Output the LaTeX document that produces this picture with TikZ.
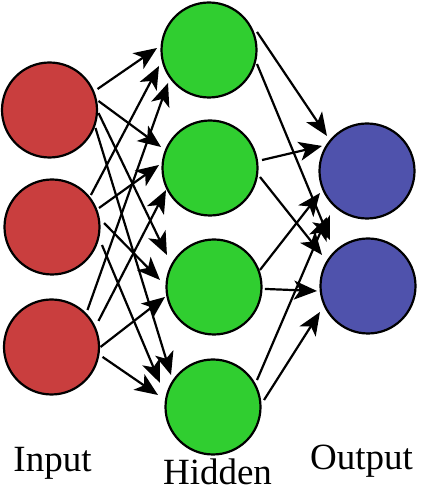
\documentclass[tikz,border=0pt]{standalone}
\usepackage{fontspec}
\setmainfont{Liberation Serif}
\usetikzlibrary{calc,arrows.meta}
\definecolor{nred}{RGB}{201,62,62}
\definecolor{ngreen}{RGB}{48,206,48}
\definecolor{nblue}{RGB}{79,82,172}
\tikzset{
  neuron/.style={circle,draw=black,line width=2.2pt,minimum size=95pt,inner sep=0pt},
  inp/.style={neuron,fill=nred},
  hid/.style={neuron,fill=ngreen},
  outp/.style={neuron,fill=nblue},
  arr/.style={line width=2.2pt,arrows={-Stealth[length=23pt 0 0,width=19pt 0 0,inset=6pt 0]}},
  lbl/.style={anchor=base,font=\fontsize{37}{40}\selectfont,inner sep=0pt}
}
\begin{document}
\begin{tikzpicture}[x=1pt,y=1pt]
\useasboundingbox (0,0) rectangle (440,502);
\node[inp] (i1) at (49.5,392) {};
\node[inp] (i2) at (52,275) {};
\node[inp] (i3) at (51.5,155) {};
\node[hid] (h1) at (209,452) {};
\node[hid] (h2) at (210,334) {};
\node[hid] (h3) at (214,215) {};
\node[hid] (h4) at (213,95) {};
\node[outp] (o1) at (367,331) {};
\node[outp] (o2) at (368,216) {};
% input -> hidden
\draw[arr] ($(i1.center)+(23.6:52.4)$) -- ($(h1.center)+(177.8:52)$);
\draw[arr] ($(i1.center)+(10.4:49.8)$) -- ($(h2.center)+(156.8:53.3)$);
\draw[arr] ($(i1.center)+(-3.5:49.1)$) -- ($(h3.center)+(145.8:56.9)$);
\draw[arr] ($(i1.center)+(-21.4:49.4)$) -- ($(h4.center)+(142.7:52.8)$);
\draw[arr] ($(i2.center)+(39.4:50.4)$) -- ($(h1.center)+(197.7:52.5)$);
\draw[arr] ($(i2.center)+(22:50.7)$) -- ($(h2.center)+(176.6:51.1)$);
\draw[arr] ($(i2.center)+(4.4:52.2)$) -- ($(h3.center)+(172.6:54.5)$);
\draw[arr] ($(i2.center)+(-19.8:53.1)$) -- ($(h4.center)+(155.6:58.2)$);
\draw[arr] ($(i3.center)+(45.8:51.6)$) -- ($(h1.center)+(218.8:52.6)$);
\draw[arr] ($(i3.center)+(29:53.7)$) -- ($(h2.center)+(206.6:49.2)$);
\draw[arr] ($(i3.center)+(0:49)$) -- ($(h3.center)+(191.5:50)$);
\draw[arr] ($(i3.center)+(-11:52)$) -- ($(h4.center)+(167.7:56.3)$);
% hidden -> output
\draw[arr] ($(h1.center)+(20.6:51.3)$) -- ($(o1.center)+(138.8:53.2)$);
\draw[arr] ($(h1.center)+(-16.3:50)$) -- ($(o2.center)+(129.6:59.7)$);
\draw[arr] ($(h2.center)+(8.7:52.6)$) -- ($(o1.center)+(150.9:51.5)$);
\draw[arr] ($(h2.center)+(-10.2:50.8)$) -- ($(o2.center)+(146:55.5)$);
\draw[arr] ($(h3.center)+(20.3:49)$) -- ($(o1.center)+(205.1:51.9)$);
\draw[arr] ($(h3.center)+(-2.2:51)$) -- ($(o2.center)+(185.6:51.2)$);
\draw[arr] ($(h4.center)+(31.5:51.6)$) -- ($(o1.center)+(229:61)$);
\draw[arr] ($(h4.center)+(7.8:51.5)$) -- ($(o2.center)+(208.4:54.6)$);
% labels
\node[lbl] (tin) at (52.5,30) {Input};
\node[lbl] (thid) at (217.5,17) {Hidden};
\node[lbl] (tout) at (361.5,32) {Output};
\end{tikzpicture}
\end{document}
